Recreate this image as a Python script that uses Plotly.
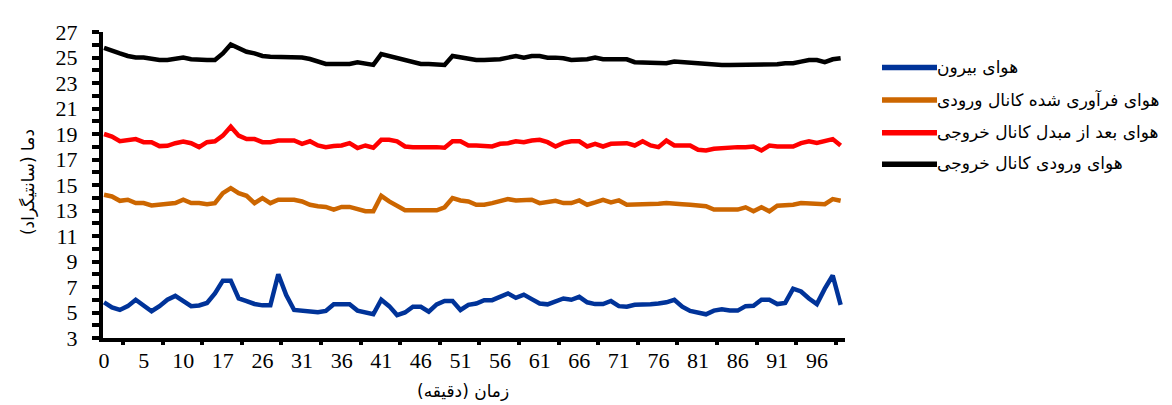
import plotly.graph_objects as go

# ---- data ----
minute_index = list(range(94))
tick_label_index = list(range(0, 91, 5))
tick_labels = ["0", "5", "10", "17", "26", "31", "36", "41", "46", "51", "56",
               "61", "66", "71", "76", "81", "86", "91", "96"]

outside_air = [5.8, 5.4, 5.2, 5.5, 6.0, 5.5, 5.1, 5.5, 6.0, 6.3,
               5.85, 5.5, 5.55, 5.75, 6.5, 7.5, 7.5, 6.1, 5.9, 5.67,
               5.56, 5.56, 8.0, 6.36, 5.2, 5.15, 5.12, 5.02, 5.12, 5.64,
               5.64, 5.64, 5.15, 5.0, 4.86, 6.0, 5.5, 4.8, 5.0, 5.45,
               5.45, 5.07, 5.64, 5.9, 5.9, 5.2, 5.6, 5.7, 5.97, 5.97,
               6.23, 6.5, 6.15, 6.4, 6.05, 5.7, 5.64, 5.9, 6.1, 6.0,
               6.23, 5.8, 5.66, 5.66, 5.9, 5.5, 5.45, 5.6, 5.6, 5.64,
               5.7, 5.8, 6.0, 5.45, 5.12, 5.0, 4.86, 5.15, 5.25, 5.15,
               5.15, 5.5, 5.53, 6.0, 6.0, 5.66, 5.75, 6.87, 6.65, 6.1,
               5.66, 6.87, 7.9, 5.6]

recovered_inlet = [14.23, 14.1, 13.76, 13.84, 13.58, 13.58, 13.4, 13.45, 13.45, 13.58,
                   13.84, 13.58, 13.58, 13.5, 13.58, 14.36, 14.75, 14.36, 14.15, 13.58,
                   13.97, 13.58, 13.84, 13.84, 13.84, 13.71, 13.45, 13.33, 13.28, 13.07,
                   13.28, 13.28, 13.07, 12.94, 12.94, 14.15, 13.71, 13.33, 13.02, 13.02,
                   13.02, 13.02, 13.02, 13.25, 13.97, 13.79, 13.71, 13.45, 13.45, 13.58,
                   13.76, 13.89, 13.79, 13.84, 13.84, 13.58, 13.71, 13.76, 13.58, 13.58,
                   13.79, 13.45, 13.63, 13.84, 13.63, 13.79, 13.45, 13.45, 13.45, 13.5,
                   13.53, 13.58, 13.58, 13.5, 13.45, 13.38, 13.33, 13.07, 13.07, 13.07,
                   13.07, 13.25, 12.94, 13.25, 12.94, 13.38, 13.4, 13.45, 13.58, 13.58,
                   13.5, 13.5, 13.89, 13.76]

after_exchanger = [19.0, 18.8, 18.43, 18.54, 18.6, 18.36, 18.36, 18.05, 18.07, 18.28,
                   18.4, 18.28, 17.97, 18.36, 18.43, 18.87, 19.57, 18.87, 18.6, 18.6,
                   18.36, 18.36, 18.49, 18.49, 18.49, 18.23, 18.43, 18.1, 17.97, 18.05,
                   18.1, 18.28, 17.9, 18.1, 17.92, 18.54, 18.54, 18.43, 18.02, 17.97,
                   17.97, 18.02, 17.97, 17.92, 18.43, 18.43, 18.1, 18.1, 18.1, 18.02,
                   18.23, 18.28, 18.43, 18.36, 18.49, 18.54, 18.36, 18.02, 18.3, 18.43,
                   18.43, 18.02, 18.23, 18.02, 18.23, 18.28, 18.28, 18.1, 18.43, 18.1,
                   17.97, 18.49, 18.1, 18.1, 18.1, 17.76, 17.71, 17.84, 17.9, 17.9,
                   17.97, 17.97, 18.02, 17.71, 18.1, 18.02, 18.02, 18.02, 18.28, 18.43,
                   18.3, 18.43, 18.6, 18.1]

outlet_inlet = [25.76, 25.58, 25.32, 25.12, 25.0, 25.0, 24.88, 24.8, 24.8, 24.88,
                24.99, 24.86, 24.8, 24.8, 24.8, 25.32, 26.02, 25.76, 25.45, 25.32,
                25.12, 25.06, 25.06, 25.06, 25.06, 25.0, 24.88, 24.68, 24.5, 24.5,
                24.5, 24.5, 24.63, 24.55, 24.42, 25.27, 25.12, 24.88, 24.76, 24.6,
                24.5, 24.5, 24.47, 24.42, 25.12, 25.0, 24.88, 24.8, 24.8, 24.8,
                24.86, 24.99, 25.12, 24.99, 25.12, 25.12, 24.99, 24.99, 24.94, 24.8,
                24.8, 24.86, 24.99, 24.86, 24.86, 24.86, 24.86, 24.63, 24.6, 24.6,
                24.55, 24.55, 24.68, 24.63, 24.55, 24.55, 24.5, 24.42, 24.42, 24.42,
                24.42, 24.42, 24.42, 24.42, 24.42, 24.47, 24.55, 24.55, 24.68, 24.8,
                24.8, 24.63, 24.86, 24.94]

series_names = ["هوای بیرون", "هوای فرآوری شده کانال ورودی",
                "هوای بعد از مبدل کانال خروجی", "هوای ورودی کانال خروجی"]
series_values = [outside_air, recovered_inlet, after_exchanger, outlet_inlet]
series_colors = ["#003399", "#CC6600", "#FF0000", "#000000"]

# ---- figure ----
W, H = 1172, 405
ML, MR, MT, MB = 95, 335, 20, 75
PW, PH = W - ML - MR, H - MT - MB
XRANGE = [-0.13, 93.55]

fig = go.Figure()
for name, vals, col in zip(series_names, series_values, series_colors):
    fig.add_trace(go.Scatter(x=minute_index, y=vals, mode="lines", name=name,
                             line=dict(color=col, width=4.5), showlegend=False))

num_font = dict(family="Liberation Serif, Times New Roman, serif", size=22, color="black")
fa_font = "DejaVu Sans, sans-serif"

tick_mark_pos = [2.4 + 5 * k for k in range(19)]

fig.update_layout(
    width=W, height=H,
    margin=dict(l=ML, r=MR, t=MT, b=MB),
    plot_bgcolor="white", paper_bgcolor="white",
    xaxis=dict(range=XRANGE, tickmode="array", tickvals=tick_label_index,
               ticktext=tick_labels, ticks="", showgrid=False, zeroline=False,
               showline=True, linecolor="black", linewidth=4, tickfont=num_font,
               ticklabelstandoff=0),
    xaxis2=dict(range=XRANGE, overlaying="x", side="bottom", anchor="y",
                tickmode="array", tickvals=tick_mark_pos, showticklabels=False,
                ticks="outside", ticklen=6, tickwidth=4, tickcolor="black",
                showgrid=False, zeroline=False, showline=False),
    yaxis=dict(range=[3, 27], tick0=3, dtick=2, ticks="outside", ticklen=7,
               tickwidth=4, tickcolor="black", showgrid=False, zeroline=False,
               showline=True, linecolor="black", linewidth=4, tickfont=num_font,
               ticklabelstandoff=10,
               minor=dict(dtick=1, ticks="outside", ticklen=7, tickwidth=4,
                          tickcolor="black", showgrid=False)),
)
# invisible trace to activate the tick-mark axis
fig.add_trace(go.Scatter(x=[XRANGE[0]], y=[3], xaxis="x2", yaxis="y", mode="markers",
                         marker=dict(opacity=0), showlegend=False, hoverinfo="skip"))

def px2paper_x(px):
    return (px - ML) / PW

def px2paper_y(py):
    return (H - MB - py) / PH

legend_y = [56, 89, 122, 154]
for name, col, ly in zip(series_names, series_colors, legend_y):
    fig.add_shape(type="line", xref="paper", yref="paper",
                  x0=px2paper_x(874), x1=px2paper_x(929),
                  y0=px2paper_y(ly), y1=px2paper_y(ly),
                  line=dict(color=col, width=5.5))
    fig.add_annotation(xref="paper", yref="paper", x=px2paper_x(927), y=px2paper_y(ly - 1),
                       text=name, showarrow=False, xanchor="left", yanchor="middle",
                       font=dict(family=fa_font, size=17, color="black"))

fig.add_annotation(xref="paper", yref="paper", x=px2paper_x(455), y=px2paper_y(384),
                   text="زمان (دقیقه)", showarrow=False, xanchor="center", yanchor="middle",
                   font=dict(family=fa_font, size=17, color="black"))
fig.add_annotation(xref="paper", yref="paper", x=px2paper_x(20), y=px2paper_y(172),
                   text="دما (سانتیگراد)", showarrow=False, textangle=-90,
                   xanchor="center", yanchor="middle",
                   font=dict(family=fa_font, size=17, color="black"))

fig.write_html("out.html")
